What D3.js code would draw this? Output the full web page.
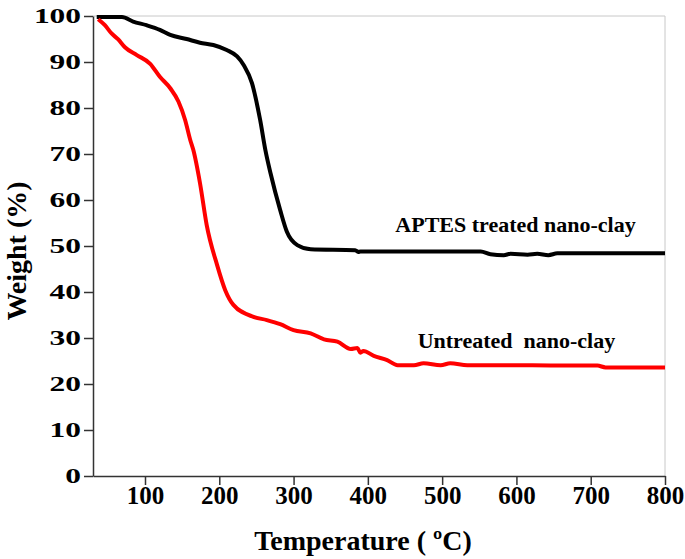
<!DOCTYPE html>
<html><head><meta charset="utf-8">
<script src="https://cdn.jsdelivr.net/npm/d3@7"></script>
<style>body{margin:0;background:#fff}svg{display:block}text{font-family:"Liberation Serif","Times New Roman",serif !important;font-weight:bold;fill:#000}</style>
</head><body><svg id="c" width="685" height="559"></svg>
<script>
// APTES treated nano-clay
const aptesTemp = [35, 69, 84, 102, 120, 134, 156, 174, 192, 210, 224, 233, 244, 255, 262, 269, 282, 291, 305, 323, 383, 387, 390, 552, 565, 583, 592, 615, 628, 643, 655, 800];
const aptesWeight = [99.8, 99.8, 98.8, 98.0, 97.0, 95.9, 95.0, 94.2, 93.7, 92.6, 91.2, 89.3, 85.4, 77.4, 70.9, 65.8, 57.8, 53.1, 50.2, 49.3, 49.1, 48.7, 48.8, 48.8, 48.2, 48.0, 48.3, 48.1, 48.3, 48.0, 48.4, 48.4];
// Untreated nano-clay
const untrTemp = [37, 46, 55, 64, 73, 89, 107, 120, 134, 145, 154, 161, 165, 174, 183, 197, 208, 219, 246, 264, 282, 300, 323, 341, 359, 377, 386, 390, 394, 408, 426, 440, 462, 475, 498, 511, 534, 709, 720, 800];
const untrWeight = [99.3, 98.0, 96.2, 94.9, 93.2, 91.5, 89.6, 86.8, 84.3, 81.4, 77.4, 73.0, 70.9, 63.7, 54.6, 45.9, 40.4, 37.2, 34.6, 33.9, 33.0, 31.7, 31.0, 29.7, 29.2, 27.6, 27.8, 26.8, 27.2, 26.1, 25.2, 24.1, 24.1, 24.5, 24.1, 24.5, 24.1, 24.0, 23.6, 23.6];
const xTicks = [100, 200, 300, 400, 500, 600, 700, 800];
const xMinor = [50, 150, 250, 350, 450, 550, 650, 750];
const yTicks = [0, 10, 20, 30, 40, 50, 60, 70, 80, 90, 100];
const yMinor = [5, 15, 25, 35, 45, 55, 65, 75, 85, 95];
const labels = ["APTES treated nano-clay", "Untreated  nano-clay"];

const FONT = '"Liberation Serif","Times New Roman",serif';
const svg = d3.select("#c");
const m = {l: 93, t: 16, r: 20, b: 83};
const W = 685, H = 559;
const x = d3.scaleLinear().domain([30, 800]).range([m.l, W - m.r]);
const y = d3.scaleLinear().domain([0, 100]).range([H - m.b, m.t]);

// frame top/right
svg.append("path").attr("d", `M${x(30)},${y(100)}H${x(800)}V${y(0)}`).attr("fill", "none").attr("stroke", "#c8c8c8").attr("stroke-width", 1);

// x axis
const gx = svg.append("g").attr("transform", `translate(0,${y(0)})`);
gx.call(d3.axisBottom(x).tickValues(xMinor).tickSize(5).tickFormat(""));
gx.call(d3.axisBottom(x).tickValues(xTicks).tickSize(9).tickSizeOuter(0).tickPadding(1).tickFormat(d3.format("d")));
gx.attr("font-family", FONT);
gx.selectAll("path.domain").attr("stroke", "#333").attr("stroke-width", 1.5);
gx.selectAll("line").attr("stroke", "#333").attr("stroke-width", 1.5);
gx.selectAll("text").style("font-family", FONT).style("font-weight", "bold").style("font-size", "25px").attr("fill", "#000");

// y axis
const gy = svg.append("g").attr("transform", `translate(${x(30)},0)`);
gy.call(d3.axisLeft(y).tickValues(yMinor).tickSize(5).tickFormat(""));
gy.call(d3.axisLeft(y).tickValues(yTicks).tickSize(9).tickSizeOuter(0).tickPadding(3).tickFormat(d3.format("d")));
gy.attr("font-family", FONT);
gy.selectAll("path.domain").attr("stroke", "#333").attr("stroke-width", 1.5);
gy.selectAll("line").attr("stroke", "#333").attr("stroke-width", 1.5);
gy.selectAll("text").style("font-family", FONT).style("font-weight", "bold").style("font-size", "21px").attr("fill", "#000")
  .attr("textLength", d => String(d).length * 15.7).attr("lengthAdjust", "spacingAndGlyphs");

// lines
const line = d3.line().x(d => x(d[0])).y(d => y(d[1])).curve(d3.curveMonotoneX);
svg.append("path").datum(aptesTemp.map((t, i) => [t, aptesWeight[i]]))
  .attr("d", line).attr("fill", "none").attr("stroke", "#000").attr("stroke-width", 4).attr("stroke-linejoin", "round");
svg.append("path").datum(untrTemp.map((t, i) => [t, untrWeight[i]]))
  .attr("d", line).attr("fill", "none").attr("stroke", "#ff0000").attr("stroke-width", 4).attr("stroke-linejoin", "round");

// labels
svg.append("text").attr("x", x(437)).attr("y", y(53.1)).style("font-size", "22px").text(labels[0]);
svg.append("text").attr("x", x(467)).attr("y", y(27.8)).style("font-size", "22px").style("white-space", "pre").text(labels[1]);

// axis titles
svg.append("text").attr("x", 363).attr("y", 550).attr("text-anchor", "middle").style("font-size", "28px").text("Temperature ( ºC)");
svg.append("text").attr("transform", "translate(26,251) rotate(-90)").attr("text-anchor", "middle").style("font-size", "28px").text("Weight (%)");
</script></body></html>
